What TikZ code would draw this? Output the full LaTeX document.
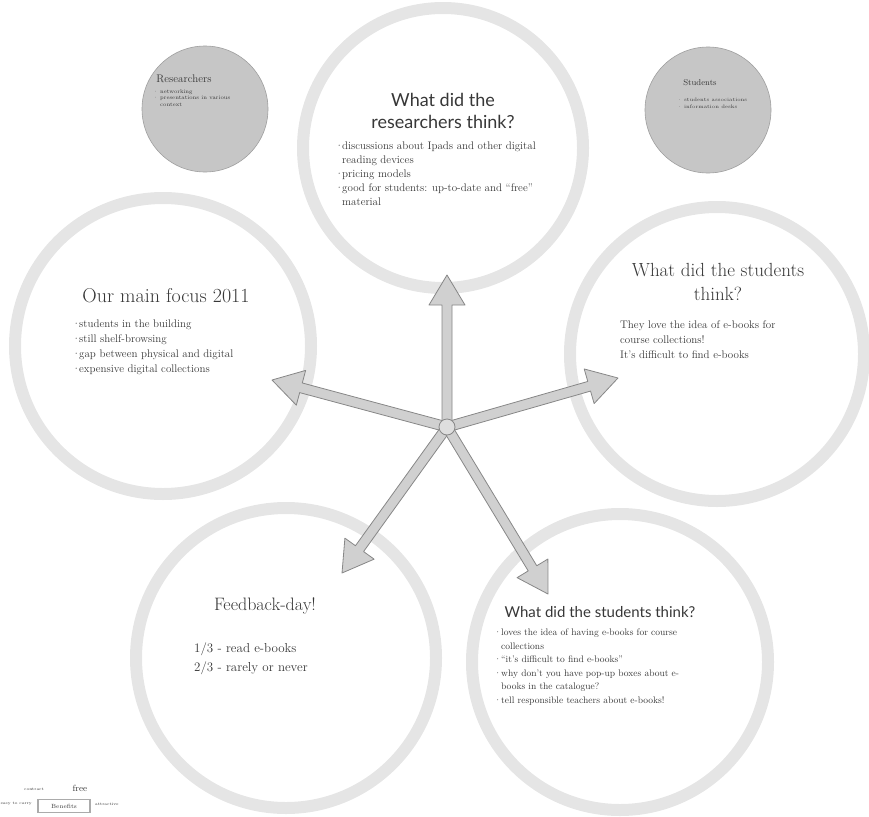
\documentclass[tikz,border=0pt]{standalone}
\usepackage{fontspec}
\newfontfamily\titlefont{Lato}
\usetikzlibrary{calc}
\definecolor{rgRing}{RGB}{229,229,229}
\definecolor{rgDisk}{RGB}{198,198,198}
\definecolor{rgEdge}{RGB}{135,135,135}
\definecolor{rgArrow}{RGB}{208,208,208}
\definecolor{rgText}{RGB}{55,55,55}

\newcommand{\bul}{\makebox[7pt][l]{\textperiodcentered}}
\newcommand{\ind}{\hspace*{7pt}}
% fat arrow from a node to a coordinate
\newcommand{\fatarrow}[2]{%
  \coordinate (fb) at ($(#2)!30pt!(#1)$);
  \filldraw[fat] ($(#1)!5pt!90:(#2)$) -- ($(fb)!5pt!-90:(#1)$) -- ($(fb)!18pt!-90:(#1)$)
    -- (#2) -- ($(fb)!18pt!90:(#1)$) -- ($(fb)!5pt!90:(#1)$) -- ($(#1)!5pt!-90:(#2)$) -- cycle;
}

\begin{document}
\begin{tikzpicture}[x=1pt, y=-1pt,
  ring/.style={draw=rgRing, line width=12pt},
  disk/.style={fill=rgDisk, draw=rgEdge!80, line width=0.6pt},
  fat/.style={fill=rgArrow, draw=rgEdge, line width=0.8pt, line join=round},
  body/.style={align=left, anchor=north west, text=rgText, inner sep=0pt}]
  \useasboundingbox (0,0) rectangle (869,816);

  % big rings
  \draw[ring] (443,148) circle (140);
  \draw[ring] (163,346) circle (148);
  \draw[ring] (717,354) circle (147);
  \draw[ring] (286,658) circle (150);
  \draw[ring] (620,662) circle (148);

  % grey side notes
  \filldraw[disk] (205,109) circle (63);
  \filldraw[disk] (708,110) circle (63);

  % arrows out of the hub
  \coordinate (tipT) at (447,275);
  \coordinate (tipL) at (272,380);
  \coordinate (tipR) at (618,378);
  \coordinate (tipF) at (342,573);
  \coordinate (tipS) at (548,594);
  \node[circle, minimum size=16pt, inner sep=0pt] (hub) at (447,427) {};
  \fatarrow{hub.center}{tipT}
  \fatarrow{hub.center}{tipL}
  \fatarrow{hub.center}{tipR}
  \fatarrow{hub.center}{tipF}
  \fatarrow{hub.center}{tipS}
  \filldraw[fill=rgArrow!70, draw=rgEdge, line width=0.8pt] (hub.center) circle (8);

  % researchers
  \node[text=rgText, font=\titlefont\fontsize{18}{22}\selectfont, align=center] (Ttitle) at (443,111) {What did the\\researchers think?};
  \node[body, font=\fontsize{11}{14}\selectfont] (Tlist) at (335,142) {\bul discussions about Ipads and other digital\\\ind reading devices\\\bul pricing models\\\bul good for students: up-to-date and ``free''\\\ind material};

  % main focus
  \node[text=rgText, font=\fontsize{20}{24}\selectfont] (Ltitle) at (166,296) {Our main focus 2011};
  \node[body, font=\fontsize{11}{15}\selectfont] (Llist) at (72,320) {\bul students in the building\\\bul still shelf-browsing\\\bul gap between physical and digital\\\bul expensive digital collections};

  % students (right)
  \node[text=rgText, font=\fontsize{19}{24}\selectfont, align=center] (Rtitle) at (718,282) {What did the students\\think?};
  \node[body, font=\fontsize{11}{15}\selectfont] (Rtext) at (620,321) {They love the idea of e-books for\\course collections!\\It's difficult to find e-books};

  % feedback day
  \node[text=rgText, font=\fontsize{18}{22}\selectfont] (Ftitle) at (265,606) {Feedback-day!};
  \node[body, font=\fontsize{13}{19}\selectfont] (Ftext) at (194,643) {1/3 - read e-books\\2/3 - rarely or never};

  % students (bottom right)
  \node[text=rgText, font=\titlefont\fontsize{15}{18}\selectfont] (Stitle) at (600,612) {What did the students think?};
  \node[body, font=\fontsize{9.5}{13.5}\selectfont] (Slist) at (494,629) {\bul loves the idea of having e-books for course\\\ind collections\\\bul ``it's difficult to find e-books''\\\bul why don't you have pop-up boxes about e-\\\ind books in the catalogue?\\\bul tell responsible teachers about e-books!};

  % small grey circles
  \node[text=rgText, font=\fontsize{11}{13}\selectfont] (Rsh) at (184,79) {Researchers};
  \node[body, font=\fontsize{5.5}{6.5}\selectfont] (RshL) at (153,89) {\bul networking\\\bul presentations in various\\\ind context};
  \node[text=rgText, font=\fontsize{8.5}{10}\selectfont] (Ssh) at (700,83) {Students};
  \node[body, font=\fontsize{5}{7}\selectfont] (SshL) at (677,98) {\bul students associations\\\bul information desks};

  % benefits corner
  \node[draw=rgEdge!70, line width=1.5pt, text=rgText, font=\fontsize{6}{7}\selectfont, minimum width=52pt, minimum height=13pt, inner sep=1pt] (ben) at (64,806) {Benefits};
  \node[text=rgText, font=\fontsize{4}{5}\selectfont] (con) at (34,789) {contract};
  \node[text=rgText, font=\fontsize{9}{10}\selectfont] (free) at (80,788) {free};
  \node[text=rgText, font=\fontsize{4}{5}\selectfont, anchor=east, inner sep=0pt] (carry) at (32,804) {easy to carry};
  \node[text=rgText, font=\fontsize{4}{5}\selectfont, anchor=west, inner sep=0pt] (attr) at (95,804) {attractive};
\end{tikzpicture}
\end{document}
